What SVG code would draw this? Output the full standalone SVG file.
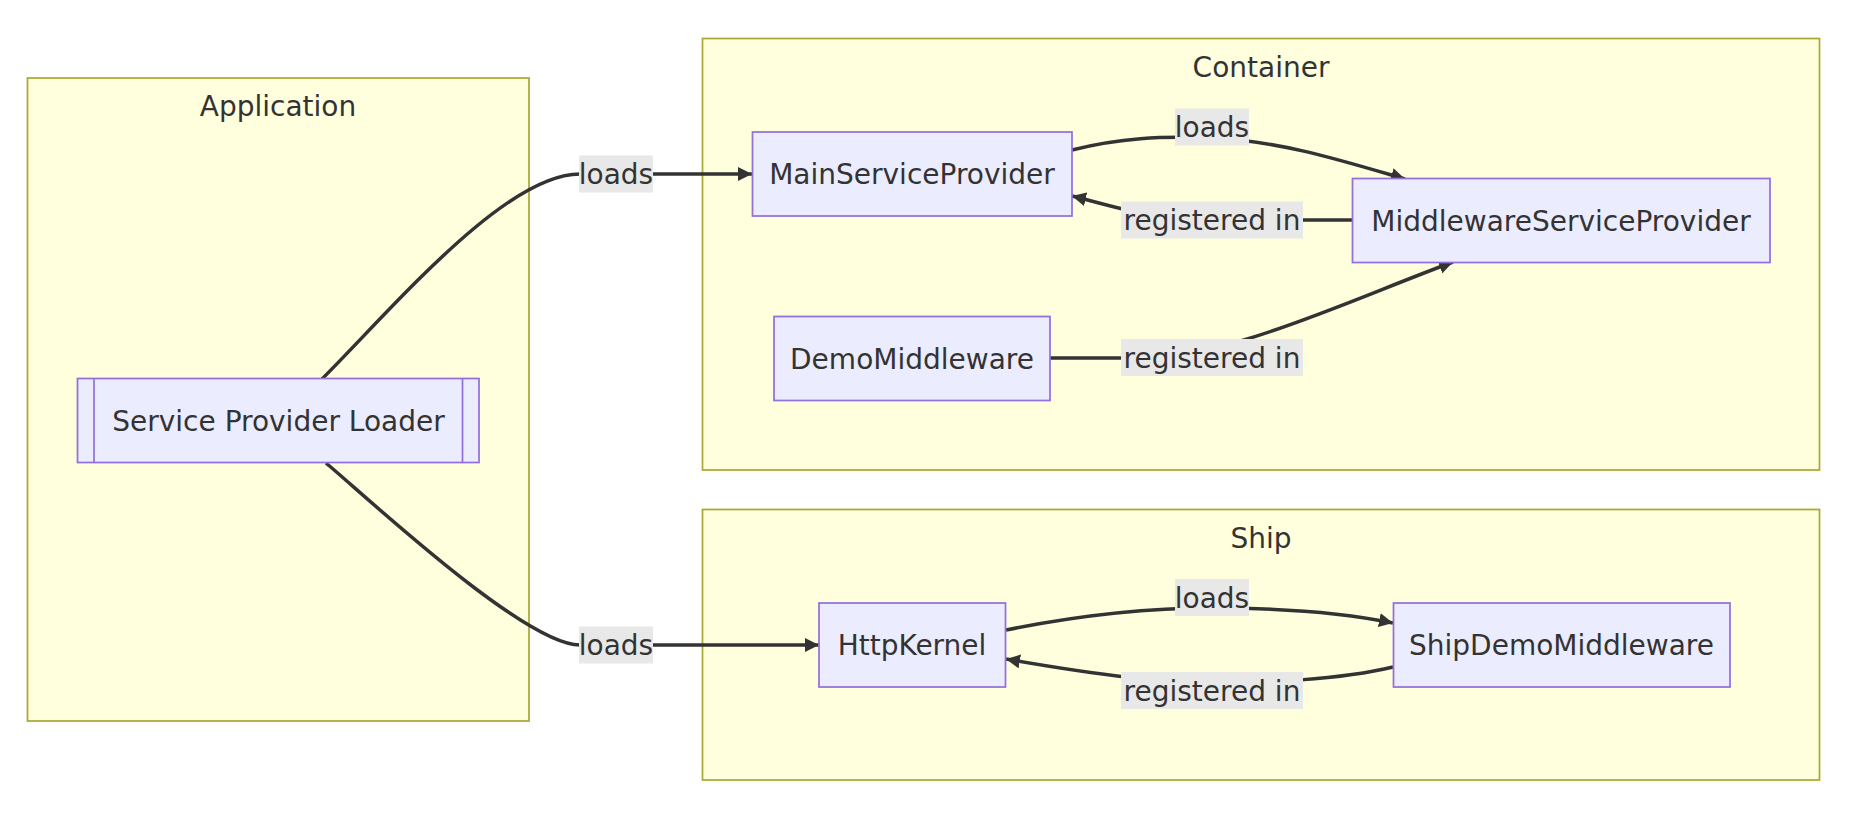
<svg xmlns="http://www.w3.org/2000/svg" width="1854" height="822" viewBox="0 0 1854 822">
<style>
.cluster rect{fill:#ffffde;stroke:#aaaa33;stroke-width:1.75}
.cluster text{font-family:"DejaVu Sans",Verdana,sans-serif;font-size:28px;fill:#333;text-anchor:middle}
.node rect,.node line{fill:#ececff;stroke:#9370db;stroke-width:1.75}
.node text{font-family:"DejaVu Sans",Verdana,sans-serif;font-size:28px;fill:#333;text-anchor:middle}
.edge{fill:none;stroke:#333;stroke-width:3.5;marker-end:url(#arrow)}
.lbl rect{fill:#e8e8e8}
.lbl text{font-family:"DejaVu Sans",Verdana,sans-serif;font-size:28px;fill:#333;text-anchor:middle}
</style>
<defs>
<marker id="arrow" viewBox="0 0 10 10" refX="10" refY="5" markerUnits="userSpaceOnUse" markerWidth="14" markerHeight="14" orient="auto">
<path d="M0,0 L10,5 L0,10 z" fill="#333"/>
</marker>
</defs>
<rect width="1854" height="822" fill="#fff"/>
<g id="cluster-Application" class="cluster">
<rect x="27.5" y="78" width="501.5" height="643"/>
<text x="278" y="116">Application</text>
</g>
<g id="cluster-Container" class="cluster">
<rect x="702.5" y="38.5" width="1117" height="431.5"/>
<text x="1261" y="76.5">Container</text>
</g>
<g id="cluster-Ship" class="cluster">
<rect x="702.5" y="509.5" width="1117" height="270.5"/>
<text x="1261" y="547.5">Ship</text>
</g>
<g id="connectors">
<path class="edge" d="M322,379 C393,308 505,174 580,174 L752,174"/>
<path class="edge" d="M326,463 C370,500 525,645 580,645 L819,645"/>
<path class="edge" d="M1072,150 C1120,138 1160,136 1212,138 C1280,141 1340,160 1405,179"/>
<path class="edge" d="M1352,220 L1212,220 C1150,220 1110,205 1072,196"/>
<path class="edge" d="M1050,358 L1140,358 C1230,358 1350,300 1453,262"/>
<path class="edge" d="M1006,630 C1080,615 1150,608 1212,608 C1280,608 1340,612 1393,623"/>
<path class="edge" d="M1393,667 C1340,680 1260,683 1212,683 C1160,683 1080,672 1006,659"/>
</g>
<g id="edge-labels">
<g class="lbl"><rect x="579" y="155.5" width="74" height="37"/><text x="616" y="184">loads</text></g>
<g class="lbl"><rect x="579" y="626.5" width="74" height="37"/><text x="616" y="655">loads</text></g>
<g class="lbl"><rect x="1175" y="108.5" width="74" height="37"/><text x="1212" y="137">loads</text></g>
<g class="lbl"><rect x="1121" y="201.5" width="182" height="37"/><text x="1212" y="230">registered in</text></g>
<g class="lbl"><rect x="1121" y="339" width="182" height="37"/><text x="1212" y="367.5">registered in</text></g>
<g class="lbl"><rect x="1175" y="579" width="74" height="37"/><text x="1212" y="607.5">loads</text></g>
<g class="lbl"><rect x="1121" y="672" width="182" height="37"/><text x="1212" y="700.5">registered in</text></g>
</g>
<g id="node-ServiceProviderLoader" class="node">
<rect x="77.5" y="378.5" width="401.5" height="84"/>
<line x1="94" y1="378.5" x2="94" y2="462.5"/>
<line x1="462.5" y1="378.5" x2="462.5" y2="462.5"/>
<text x="278.5" y="431">Service Provider Loader</text>
</g>
<g id="node-MainServiceProvider" class="node">
<rect x="752.5" y="132" width="319.5" height="84"/>
<text x="912" y="184">MainServiceProvider</text>
</g>
<g id="node-MiddlewareServiceProvider" class="node">
<rect x="1352.5" y="178.5" width="417.5" height="84"/>
<text x="1561" y="230.5">MiddlewareServiceProvider</text>
</g>
<g id="node-DemoMiddleware" class="node">
<rect x="774" y="316.5" width="276" height="84"/>
<text x="912" y="368.5">DemoMiddleware</text>
</g>
<g id="node-HttpKernel" class="node">
<rect x="819" y="603" width="186.5" height="84"/>
<text x="912" y="655">HttpKernel</text>
</g>
<g id="node-ShipDemoMiddleware" class="node">
<rect x="1393.5" y="603" width="336.5" height="84"/>
<text x="1561.5" y="655">ShipDemoMiddleware</text>
</g>
</svg>
